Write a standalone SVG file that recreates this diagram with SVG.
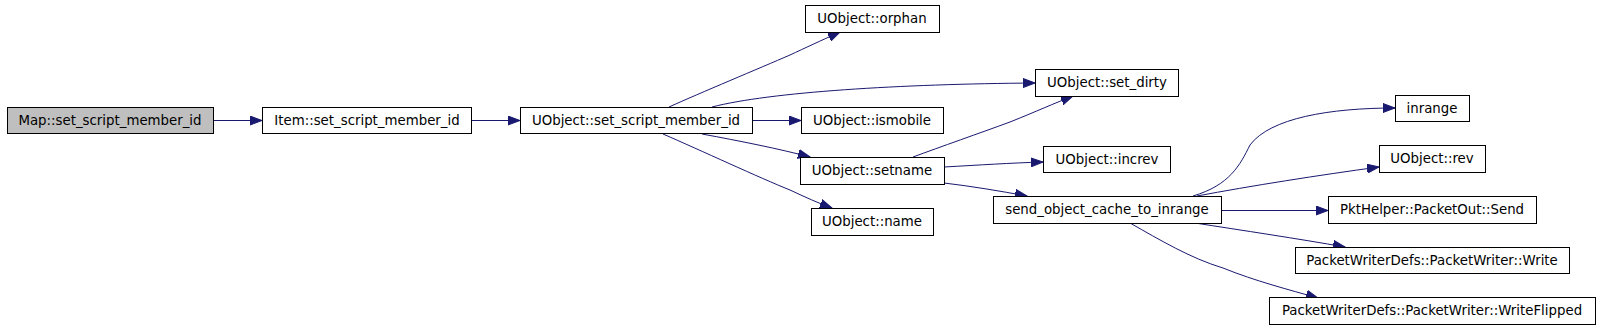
<svg xmlns="http://www.w3.org/2000/svg" width="1600" height="329" viewBox="0 0 1600 329">
<style>
.n rect{fill:#ffffff;stroke:#000000;stroke-width:1}
.n text{font-family:"DejaVu Sans",sans-serif;font-size:13.33px;fill:#000000;text-anchor:middle}
#map rect{fill:#bfbfbf}
.e path{fill:none;stroke:#191970;stroke-width:1;marker-end:url(#ah)}
</style>
<defs>
<marker id="ah" markerUnits="userSpaceOnUse" markerWidth="14" markerHeight="10" viewBox="0 -5 14 10" refX="12" refY="0" orient="auto">
<path d="M0,-4.5 L12,0 L0,4.5 z" fill="#191970" stroke="#191970" stroke-width="1"/>
</marker>
</defs>
<rect width="1600" height="329" fill="#ffffff"/>
<g id="edges" class="e">
<path d="M213,120.5 L262,120.5"/>
<path d="M471,120.5 L520,120.5"/>
<path d="M669,107 C700,93 760,68 790,55 C805,48 820,41 840,32"/>
<path d="M712,107 C770,92 900,84 1035,83"/>
<path d="M752,120.5 L801,120.5"/>
<path d="M702,134 C740,141 780,149 810,157"/>
<path d="M663,134 C700,150 760,178 790,190 C805,197 818,203 832,208"/>
<path d="M913,157 C940,147 980,133 1010,122 C1035,112 1055,103 1073,96"/>
<path d="M944,167 C980,165 1010,163 1043,162"/>
<path d="M944,183 C970,186 1000,191 1027,196"/>
<path d="M1193,196 C1230,185 1240,165 1250,145 C1270,118 1330,108 1395,108"/>
<path d="M1197,196 C1250,186 1320,175 1379,167"/>
<path d="M1221,210.5 L1328,210.5"/>
<path d="M1195,223 C1240,230 1300,239 1345,247"/>
<path d="M1130,223 C1160,240 1190,258 1223,268 C1255,281 1290,290 1318,298"/>
</g>
<g id="map" class="n"><rect x="7.5" y="107.5" width="206" height="26"/><text x="110" y="124.5">Map::set_script_member_id</text></g>
<g id="item" class="n"><rect x="262.5" y="107.5" width="209" height="26"/><text x="367" y="124.5">Item::set_script_member_id</text></g>
<g id="uobj_ssmi" class="n"><rect x="520.5" y="107.5" width="232" height="26"/><text x="636" y="124.5">UObject::set_script_member_id</text></g>
<g id="orphan" class="n"><rect x="805.5" y="5.5" width="134" height="27"/><text x="872" y="23">UObject::orphan</text></g>
<g id="ismobile" class="n"><rect x="801.5" y="107.5" width="142" height="26"/><text x="872" y="124.5">UObject::ismobile</text></g>
<g id="setname" class="n"><rect x="800.5" y="157.5" width="144" height="27"/><text x="872" y="175">UObject::setname</text></g>
<g id="name" class="n"><rect x="811.5" y="208.5" width="122" height="27"/><text x="872" y="226">UObject::name</text></g>
<g id="set_dirty" class="n"><rect x="1035.5" y="69.5" width="143" height="27"/><text x="1107" y="87">UObject::set_dirty</text></g>
<g id="increv" class="n"><rect x="1043.5" y="146.5" width="127" height="26"/><text x="1107" y="163.5">UObject::increv</text></g>
<g id="send_cache" class="n"><rect x="993.5" y="196.5" width="228" height="27"/><text x="1107" y="214">send_object_cache_to_inrange</text></g>
<g id="inrange" class="n"><rect x="1395.5" y="95.5" width="74" height="26"/><text x="1432" y="112.5">inrange</text></g>
<g id="rev" class="n"><rect x="1379.5" y="145.5" width="106" height="27"/><text x="1432" y="163">UObject::rev</text></g>
<g id="send" class="n"><rect x="1328.5" y="196.5" width="208" height="27"/><text x="1432" y="214">PktHelper::PacketOut::Send</text></g>
<g id="write" class="n"><rect x="1295.5" y="247.5" width="274" height="26"/><text x="1432" y="264.5">PacketWriterDefs::PacketWriter::Write</text></g>
<g id="writeflipped" class="n"><rect x="1269.5" y="297.5" width="326" height="27"/><text x="1432" y="315">PacketWriterDefs::PacketWriter::WriteFlipped</text></g>
</svg>
